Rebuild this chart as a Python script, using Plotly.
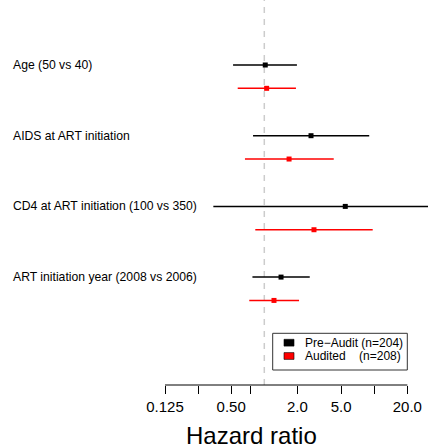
import math
import plotly.graph_objects as go

# ---- data ----
variables = ["Age (50 vs 40)", "AIDS at ART initiation",
             "CD4 at ART initiation (100 vs 350)", "ART initiation year (2008 vs 2006)"]
pre_est = [1.02, 2.66, 5.45, 1.42]
pre_lo = [0.52, 0.79, 0.344, 0.78]
pre_hi = [1.98, 9.0, 32.0, 2.59]
aud_est = [1.05, 1.68, 2.83, 1.225]
aud_lo = [0.573, 0.667, 0.828, 0.73]
aud_hi = [1.94, 4.28, 9.68, 2.07]
tick_vals = [0.125, 0.25, 0.5, 0.75, 2, 5, 10, 20]
tick_text = ["0.125", "", "0.50", "", "2.0", "5.0", "", "20.0"]
legend_labels = ["Pre\u2212Audit (n=204)", "Audited    (n=208)"]
colors = ["black", "red"]
x_title = "Hazard ratio"

FONT = "Liberation Sans, Arial, sans-serif"
W, H = 428, 448
PB = 385            # plot bottom (pixel)
ROW_OFF = 0.33

fig = go.Figure()

def add_series(est, lo, hi, offset, color):
    ys = [i + offset for i in range(len(est))]
    xs, yy = [], []
    for l, h, y in zip(lo, hi, ys):
        xs += [l, h, None]
        yy += [y, y, None]
    fig.add_trace(go.Scatter(x=xs, y=yy, mode="lines",
                             line=dict(color=color, width=1.5),
                             showlegend=False, hoverinfo="skip"))
    fig.add_trace(go.Scatter(x=est, y=ys, mode="markers",
                             marker=dict(symbol="square", size=5, color=color,
                                         line=dict(width=0)),
                             showlegend=False))

add_series(pre_est, pre_lo, pre_hi, 0.0, colors[0])
add_series(aud_est, aud_lo, aud_hi, ROW_OFF, colors[1])

# reference line at HR = 1
fig.add_shape(type="line", xref="x", yref="paper", x0=1, x1=1, y0=0, y1=1,
              line=dict(color="#cccccc", width=1.5, dash="6px,6px"), layer="below")
# axis line
fig.add_shape(type="line", xref="x", yref="paper", x0=tick_vals[0], x1=tick_vals[-1],
              y0=0, y1=0, line=dict(color="black", width=1))

def px(x):
    return x / W

def py(y):
    return (PB - y) / PB

# y labels
for i, v in enumerate(variables):
    fig.add_annotation(x=px(11), xref="paper", y=i, yref="y", text=v,
                       showarrow=False, xanchor="left", yanchor="middle",
                       font=dict(family=FONT, size=12.2, color="black"))

# x title
fig.add_annotation(x=px(251.5), xref="paper", y=py(435), yref="paper", text=x_title,
                   showarrow=False, xanchor="center", yanchor="middle",
                   font=dict(family=FONT, size=24, color="black"))

# manual legend
fig.add_shape(type="rect", xref="paper", yref="paper",
              x0=px(272.7), x1=px(407.3), y0=py(370), y1=py(333.3),
              line=dict(color="#333333", width=1), fillcolor="white")
for k, (lab, col) in enumerate(zip(legend_labels, colors)):
    yc = 342.7 + k * 13.3
    fig.add_shape(type="rect", xref="paper", yref="paper",
                  x0=px(284), x1=px(294), y0=py(yc + 3.4), y1=py(yc - 3.4),
                  line=dict(color="black", width=0.6), fillcolor=col)
    fig.add_annotation(x=px(303), xref="paper", y=py(yc), yref="paper", text=lab,
                       showarrow=False, xanchor="left", yanchor="middle",
                       font=dict(family=FONT, size=12, color="black"))

lpp = 33.1 / math.log10(2)
x_left = -264.3 / lpp
x_right = (W - 264.3) / lpp
y_top = -65 / 70.7
y_bot = (PB - 65) / 70.7

fig.update_layout(
    width=W, height=H,
    margin=dict(l=0, r=0, t=0, b=H - PB, pad=0),
    plot_bgcolor="white", paper_bgcolor="white",
    showlegend=False,
    font=dict(family=FONT, color="black"),
    xaxis=dict(type="log", range=[x_left, x_right], showgrid=False, zeroline=False,
               showline=False, tickmode="array", tickvals=tick_vals, ticktext=tick_text,
               ticks="outside", ticklen=8, tickwidth=1, tickcolor="black",
               tickfont=dict(family=FONT, size=15, color="black")),
    yaxis=dict(range=[y_bot, y_top], showgrid=False, zeroline=False, showline=False,
               showticklabels=False, ticks=""),
)

fig.write_html(
    "out.html",
    config={"displayModeBar": False},
    post_script="document.body.style.margin='0';"
                "document.body.style.overflow='hidden';"
                "document.documentElement.style.overflow='hidden';",
)
